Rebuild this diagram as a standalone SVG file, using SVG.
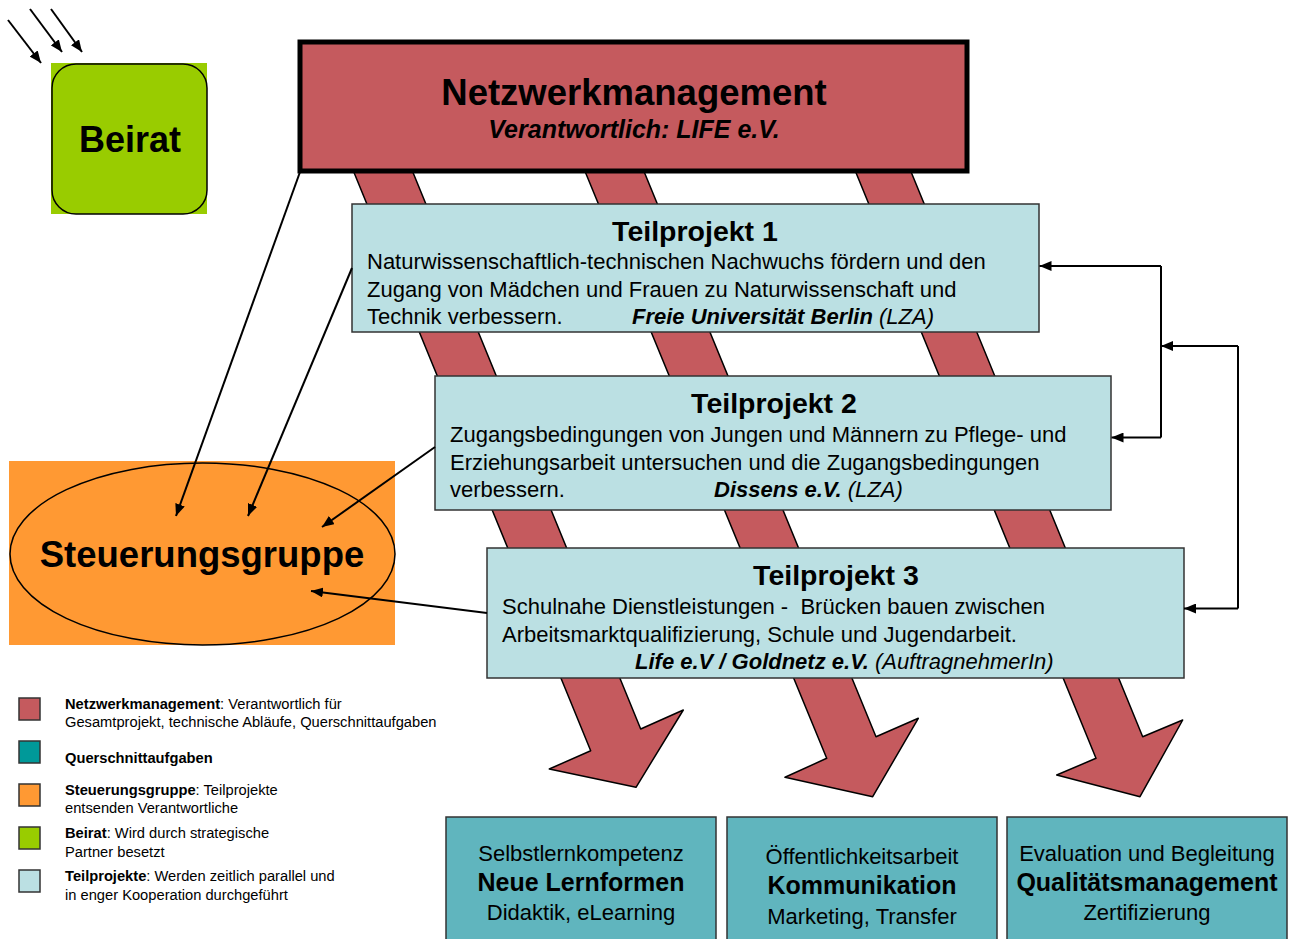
<svg xmlns="http://www.w3.org/2000/svg" width="1290" height="939" viewBox="0 0 1290 939">
<defs>
<marker id="ah" viewBox="0 0 12 10" refX="12" refY="5" markerWidth="12" markerHeight="10" markerUnits="userSpaceOnUse" orient="auto">
<path d="M0,0 L12,5 L0,10 Z" fill="#000"/>
</marker>
<style>
text{font-family:"Liberation Sans",Arial,sans-serif;fill:#000}
.red{fill:#C55A5E;stroke:#000;stroke-width:1.5;stroke-linejoin:round}
.tp{fill:#BBE0E3;stroke:#333;stroke-width:1.5}
.bot{fill:#60B5BE;stroke:#333;stroke-width:1.5}
.con{fill:none;stroke:#000;stroke-width:2;marker-end:url(#ah)}
.title{font-size:28.5px;font-weight:bold;text-anchor:middle}
.body{font-size:22px}
.bi{font-weight:bold;font-style:italic}
.it{font-style:italic}
.leg{font-size:14.7px}
.lsq{stroke:#333;stroke-width:1.5}
.b1{font-size:22px;text-anchor:middle}
.b2{font-size:25px;font-weight:bold;text-anchor:middle}
</style>
</defs>
<rect width="1290" height="939" fill="#fff"/>

<g id="flow-arrows">
<polygon class="red" points="340.7,140 399.7,140 640.7,729 683.3,710 636,787.3 549.3,769 590.7,750.7"/>
<polygon class="red" points="572.1,140 631.1,140 876,736.7 918.3,718.3 872.7,796.7 785,777.3 826.7,758.3"/>
<polygon class="red" points="842.6,140 898,140 1142.7,736.7 1182.7,720 1140,796.7 1056.7,775 1096,758.3"/>
</g>

<g id="netzwerkmanagement">
<rect x="300" y="42" width="667" height="129" fill="#C55A5E" stroke="#000" stroke-width="5"/>
<text x="634" y="105" font-size="36.5" font-weight="bold" text-anchor="middle">Netzwerkmanagement</text>
<text x="634" y="138" font-size="25" class="bi" text-anchor="middle">Verantwortlich: LIFE e.V.</text>
</g>

<g id="beirat">
<rect x="51" y="63" width="156" height="151" fill="#99CC00"/>
<rect x="52" y="64" width="155" height="150" rx="24" fill="none" stroke="#000" stroke-width="1.5"/>
<text x="130" y="152" font-size="36" font-weight="bold" text-anchor="middle">Beirat</text>
</g>

<g id="teilprojekt1">
<rect class="tp" x="352" y="204" width="687" height="128"/>
<text class="title" x="695" y="241">Teilprojekt 1</text>
<text class="body" x="367" y="269">Naturwissenschaftlich-technischen Nachwuchs fördern und den</text>
<text class="body" x="367" y="297">Zugang von Mädchen und Frauen zu Naturwissenschaft und</text>
<text class="body" x="367" y="324">Technik verbessern.<tspan x="632" class="bi">Freie Universität Berlin</tspan><tspan class="it"> (LZA)</tspan></text>
</g>

<g id="teilprojekt2">
<rect class="tp" x="435" y="376" width="676" height="134"/>
<text class="title" x="774" y="413">Teilprojekt 2</text>
<text class="body" x="450" y="442">Zugangsbedingungen von Jungen und Männern zu Pflege- und</text>
<text class="body" x="450" y="470">Erziehungsarbeit untersuchen und die Zugangsbedingungen</text>
<text class="body" x="450" y="497">verbessern.<tspan x="714" class="bi">Dissens e.V.</tspan><tspan class="it"> (LZA)</tspan></text>
</g>

<g id="teilprojekt3">
<rect class="tp" x="487" y="548" width="697" height="130"/>
<text class="title" x="836" y="585">Teilprojekt 3</text>
<text class="body" x="502" y="614" xml:space="preserve">Schulnahe Dienstleistungen -  Brücken bauen zwischen</text>
<text class="body" x="502" y="642">Arbeitsmarktqualifizierung, Schule und Jugendarbeit.</text>
<text class="body" x="635" y="669"><tspan class="bi">Life e.V / Goldnetz e.V.</tspan><tspan class="it"> (AuftragnehmerIn)</tspan></text>
</g>

<g id="steuerungsgruppe">
<rect x="9" y="461" width="386" height="184" fill="#FF9933"/>
<ellipse cx="202.5" cy="554" rx="192.5" ry="91" fill="#FF9933" stroke="#000" stroke-width="1.5"/>
<text x="202" y="567" font-size="36.5" font-weight="bold" text-anchor="middle">Steuerungsgruppe</text>
</g>

<g id="querschnitt1">
<rect class="bot" x="446" y="817" width="270" height="130"/>
<text class="b1" x="581" y="861">Selbstlernkompetenz</text>
<text class="b2" x="581" y="891">Neue Lernformen</text>
<text class="b1" x="581" y="920">Didaktik, eLearning</text>
</g>
<g id="querschnitt2">
<rect class="bot" x="727" y="817" width="270" height="130"/>
<text class="b1" x="862" y="864">Öffentlichkeitsarbeit</text>
<text class="b2" x="862" y="894">Kommunikation</text>
<text class="b1" x="862" y="924">Marketing, Transfer</text>
</g>
<g id="querschnitt3">
<rect class="bot" x="1007" y="817" width="280" height="130"/>
<text class="b1" x="1147" y="861">Evaluation und Begleitung</text>
<text class="b2" x="1147" y="891">Qualitätsmanagement</text>
<text class="b1" x="1147" y="920">Zertifizierung</text>
</g>

<g id="connectors">
<line class="con" x1="8" y1="20" x2="41" y2="63"/>
<line class="con" x1="30" y1="9" x2="62" y2="52"/>
<line class="con" x1="51" y1="9" x2="82" y2="52"/>
<line class="con" x1="300" y1="172" x2="176" y2="516"/>
<line class="con" x1="352" y1="268" x2="248" y2="516"/>
<line class="con" x1="435" y1="447" x2="322" y2="527"/>
<line class="con" x1="487" y1="613" x2="311" y2="591"/>
<path d="M1161,266 V437.5" fill="none" stroke="#000" stroke-width="2"/>
<line class="con" x1="1161" y1="266" x2="1039.5" y2="266"/>
<line class="con" x1="1161" y1="437.5" x2="1111.5" y2="437.5"/>
<path d="M1238,346 V608.5" fill="none" stroke="#000" stroke-width="2"/>
<line class="con" x1="1238" y1="346" x2="1161" y2="346"/>
<line class="con" x1="1238" y1="608.5" x2="1184" y2="608.5"/>
</g>

<g id="legend">
<rect class="lsq" x="19" y="698" width="21" height="22" fill="#C55A5E"/>
<text class="leg" x="65" y="709"><tspan font-weight="bold">Netzwerkmanagement</tspan>: Verantwortlich für</text>
<text class="leg" x="65" y="727">Gesamtprojekt, technische Abläufe, Querschnittaufgaben</text>
<rect class="lsq" x="19" y="741" width="21" height="22" fill="#009999"/>
<text class="leg" x="65" y="763" font-weight="bold">Querschnittaufgaben</text>
<rect class="lsq" x="19" y="784" width="21" height="22" fill="#FF9933"/>
<text class="leg" x="65" y="795"><tspan font-weight="bold">Steuerungsgruppe</tspan>: Teilprojekte</text>
<text class="leg" x="65" y="813">entsenden Verantwortliche</text>
<rect class="lsq" x="19" y="827" width="21" height="22" fill="#99CC00"/>
<text class="leg" x="65" y="838"><tspan font-weight="bold">Beirat</tspan>: Wird durch strategische</text>
<text class="leg" x="65" y="857">Partner besetzt</text>
<rect class="lsq" x="19" y="870" width="21" height="22" fill="#BBE0E3"/>
<text class="leg" x="65" y="881"><tspan font-weight="bold">Teilprojekte</tspan>: Werden zeitlich parallel und</text>
<text class="leg" x="65" y="900">in enger Kooperation durchgeführt</text>
</g>
</svg>
